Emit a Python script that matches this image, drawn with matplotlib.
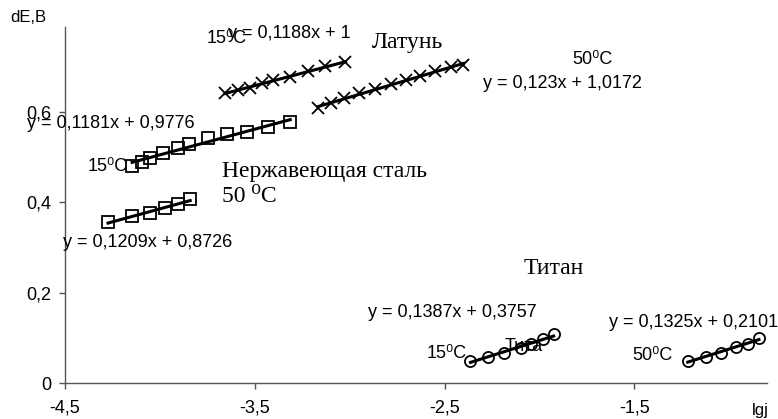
import numpy as np
import matplotlib
matplotlib.use("Agg")
import matplotlib.pyplot as plt
from matplotlib.ticker import FixedLocator, FuncFormatter

plt.rcParams["font.family"] = ["Liberation Sans", "DejaVu Sans"]

# Латунь (x markers)
brass15_x = [-3.656, -3.587, -3.524, -3.460, -3.402, -3.313, -3.218, -3.128, -3.022]
brass15_y = [0.642, 0.648, 0.653, 0.664, 0.670, 0.677, 0.690, 0.701, 0.710]
brass50_x = [-3.165, -3.096, -3.028, -2.949, -2.864, -2.780, -2.701, -2.627, -2.548, -2.468, -2.400]
brass50_y = [0.608, 0.619, 0.631, 0.642, 0.650, 0.662, 0.670, 0.679, 0.690, 0.699, 0.704]

# Нержавеющая сталь (squares)
steel15_x = [-4.146, -4.094, -4.052, -3.983, -3.904, -3.846, -3.745, -3.645, -3.540, -3.429, -3.313]
steel15_y = [0.480, 0.489, 0.498, 0.509, 0.520, 0.529, 0.542, 0.551, 0.555, 0.566, 0.577]
steel50_x = [-4.273, -4.146, -4.052, -3.972, -3.904, -3.840]
steel50_y = [0.356, 0.369, 0.376, 0.387, 0.396, 0.407]

# Титан (circles)
titan15_x = [-2.363, -2.273, -2.189, -2.099, -2.046, -1.983, -1.925]
titan15_y = [0.049, 0.058, 0.066, 0.077, 0.086, 0.097, 0.108]
titan50_x = [-1.218, -1.123, -1.044, -0.964, -0.901, -0.843]
titan50_y = [0.049, 0.058, 0.066, 0.080, 0.086, 0.100]

x_ticks = [-4.5, -3.5, -2.5, -1.5]
y_ticks = [0, 0.2, 0.4, 0.6]

fig = plt.figure(figsize=(7.78, 4.19), dpi=100)
ax = fig.add_axes([0.0835, 0.0859, 0.9025, 0.8497])


def series(xs, ys, marker, ms):
    xs = np.array(xs)
    ys = np.array(ys)
    k, b = np.polyfit(xs, ys, 1)
    ax.plot(xs, k * xs + b, color="black", lw=2.2, zorder=3)
    ax.plot(xs, ys, ls="none", marker=marker, ms=ms, mfc="none",
            mec="black", mew=1.3, zorder=4)


series(brass15_x, brass15_y, "x", 8)
series(brass50_x, brass50_y, "x", 8)
series(steel15_x, steel15_y, "s", 8)
series(steel50_x, steel50_y, "s", 8)
series(titan15_x, titan15_y, "o", 8)
series(titan50_x, titan50_y, "o", 8)

ax.set_xlim(-4.5, -0.8)
ax.set_ylim(0, 0.788)
ax.xaxis.set_major_locator(FixedLocator(x_ticks))
ax.yaxis.set_major_locator(FixedLocator(y_ticks))
fmt = FuncFormatter(lambda v, p: f"{v:g}".replace(".", ","))
ax.xaxis.set_major_formatter(fmt)
ax.yaxis.set_major_formatter(fmt)
ax.tick_params(axis="both", direction="out", length=4, width=1,
               color="#555555", labelsize=13)
ax.tick_params(axis="x", pad=8)
ax.tick_params(axis="y", pad=6)
for s in ["top", "right"]:
    ax.spines[s].set_visible(False)
for s in ["left", "bottom"]:
    ax.spines[s].set_color("#555555")
    ax.spines[s].set_linewidth(1)

sans = 13
serif = dict(family=["Liberation Serif", "DejaVu Serif"], fontsize=17)


def label(x, y, s, **kw):
    opts = dict(fontsize=sans, va="center", ha="left", clip_on=False, zorder=5)
    opts.update(kw)
    ax.text(x, y, s, **opts)


label(-3.751, 0.763, "15⁰C")
label(-3.641, 0.774, "y = 0,1188x + 1")
label(-2.882, 0.754, "Латунь", **serif)
label(-1.827, 0.715, "50⁰C")
label(-2.296, 0.664, "y = 0,123x + 1,0172")
label(-4.700, 0.575, "y = 0,1181x + 0,9776")
label(-4.379, 0.480, "15⁰C")
label(-3.672, 0.469, "Нержавеющая сталь", **serif)
label(-3.672, 0.412, "50 ⁰C", **serif)
label(-4.511, 0.312, "y = 0,1209x + 0,8726")
label(-2.086, 0.254, "Титан", **serif)
label(-2.903, 0.157, "y = 0,1387x + 0,3757")
label(-1.632, 0.135, "y = 0,1325x + 0,2101")
label(-2.592, 0.066, "15⁰C")
label(-2.181, 0.080, "Тита")
label(-1.511, 0.060, "50⁰C")

fig.text(10 / 778, 1 - 18 / 419, "dE,B", fontsize=12, va="center", ha="left")
fig.text(752 / 778, 1 - 410 / 419, "lgj", fontsize=12, va="center", ha="left")

fig.savefig("out.png", dpi=100)
plt.close(fig)
